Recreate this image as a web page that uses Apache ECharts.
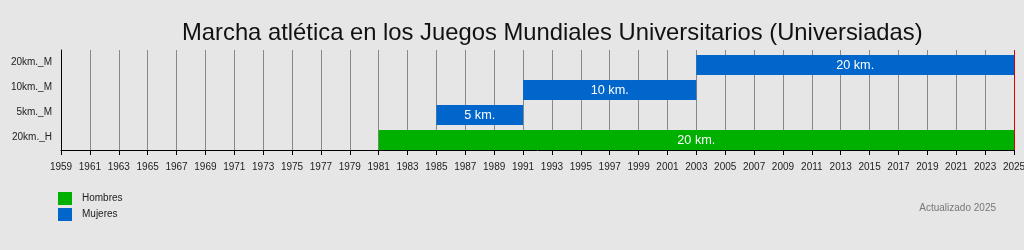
<!DOCTYPE html>
<html><head><meta charset="utf-8">
<script src="https://cdn.jsdelivr.net/npm/echarts@6/dist/echarts.min.js"></script>
<style>html,body{margin:0;padding:0;background:#e6e6e6;}#c{width:1024px;height:250px;}</style>
</head><body><div id="c"></div>
<script>
var categories = ['20km._H', '5km._M', '10km._M', '20km._M'];
var startYears = [1981, 1985, 1991, 2003];
var endYears = [2025, 1991, 2003, 2025];
var barLabels = ['20 km.', '5 km.', '10 km.', '20 km.'];
var genders = ['Hombres', 'Mujeres', 'Mujeres', 'Mujeres'];
var firstYear = 1959, lastYear = 2025, yearStep = 2;
var legendNames = ['Hombres', 'Mujeres'];
var colors = {Hombres: '#00b000', Mujeres: '#0066cc'};

var FONT = 'Liberation Sans, Arial, sans-serif';
function dataFor(g) {
  var out = [];
  categories.forEach(function (c, i) {
    if (genders[i] === g) out.push([i, startYears[i] - firstYear, endYears[i] - firstYear, i]);
  });
  return out;
}
function renderItem(params, api) {
  var cat = api.value(0);
  var s = api.coord([api.value(1), cat]);
  var e = api.coord([api.value(2), cat]);
  var band = api.size([0, 1])[1];
  var h = band * 0.8;
  return {
    type: 'rect',
    shape: {x: s[0], y: s[1] - band / 2 + band * 0.2, width: e[0] - s[0], height: h},
    style: {fill: api.visual('color')},
    textContent: {style: {text: barLabels[api.value(3)], fill: '#fff', fontSize: 12.7, fontFamily: FONT}},
    textConfig: {position: 'inside'}
  };
}
var series = legendNames.map(function (g, k) {
  var sr = {
    name: g, type: 'custom', renderItem: renderItem, data: dataFor(g),
    encode: {x: [1, 2], y: 0}, itemStyle: {color: colors[g]}
  };
  if (k === 0) {
    sr.markLine = {silent: true, symbol: 'none', label: {show: false},
      lineStyle: {color: '#dd0000', type: 'solid', width: 1},
      data: [{xAxis: lastYear - firstYear}]};
  }
  return sr;
});
var chart = echarts.init(document.getElementById('c'));
chart.setOption({
  backgroundColor: '#e6e6e6',
  animation: false,
  title: {text: 'Marcha atlética en los Juegos Mundiales Universitarios (Universiadas)', left: 177, top: 16,
    textStyle: {fontSize: 23.8, fontWeight: 'normal', color: '#111', fontFamily: FONT}},
  legend: {data: legendNames, orient: 'vertical', left: 53, top: 187, itemWidth: 14, itemHeight: 13, itemGap: 3,
    icon: 'rect', textStyle: {fontSize: 10, color: '#222', fontFamily: FONT, padding: [0, 0, 0, 5]}},
  graphic: [{type: 'text', right: 28, top: 203, style: {text: 'Actualizado 2025', fontSize: 10, fill: '#777', fontFamily: FONT}}],
  grid: {left: 61, right: 10, top: 50, bottom: 100, containLabel: false, outerBoundsMode: 'none'},
  xAxis: {type: 'value', min: 0, max: lastYear - firstYear, interval: yearStep,
    axisLine: {show: true, lineStyle: {color: '#000', width: 1}},
    axisTick: {show: true, length: 5, lineStyle: {color: '#000'}},
    axisLabel: {fontSize: 10, color: '#222', fontFamily: FONT, margin: 12,
      formatter: function (v) { return String(v + firstYear); }},
    splitLine: {show: true, lineStyle: {color: '#888', width: 1}}},
  yAxis: {type: 'category', data: categories,
    axisLine: {show: true, lineStyle: {color: '#000', width: 1}},
    axisTick: {show: false},
    axisLabel: {fontSize: 10, color: '#222', fontFamily: FONT, margin: 9}},
  series: series
});
</script></body></html>
